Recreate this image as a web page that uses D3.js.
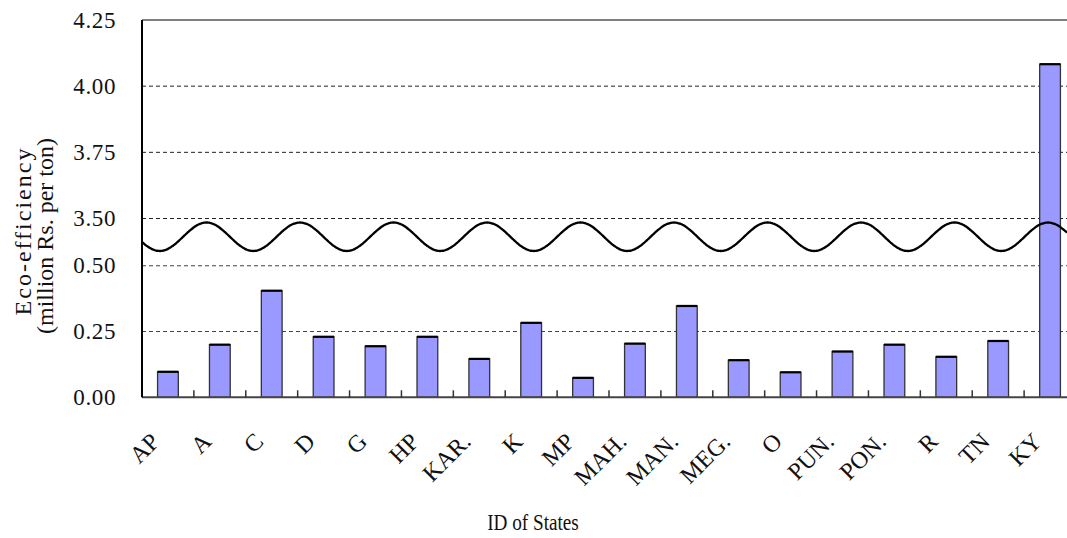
<!DOCTYPE html>
<html>
<head>
<meta charset="utf-8">
<script src="https://cdn.jsdelivr.net/npm/d3@7"></script>
<style>
  html, body { margin: 0; padding: 0; background: #fff; }
  svg { display: block; }
  text { font-family: "Liberation Serif", "Times New Roman", serif; fill: #111; }
</style>
</head>
<body>
<svg id="chart" width="1067" height="538"></svg>
<script>
// ---- data ----
const categories = ["AP","A","C","D","G","HP","KAR.","K","MP","MAH.","MAN.","MEG.","O","PUN.","PON.","R","TN","KY"];
const values = [0.097,0.200,0.405,0.230,0.194,0.230,0.146,0.283,0.074,0.204,0.347,0.141,0.095,0.174,0.200,0.154,0.214,4.083];
const lowerTicks = [0.00, 0.25, 0.50];
const upperTicks = [3.50, 3.75, 4.00, 4.25];
const yTitleLines = ["Eco-efficiency", "(million Rs. per ton)"];
const xTitle = "ID of States";

// ---- layout ----
const left = 142, rightBand = 1076, rightVisible = 1067;
const svg = d3.select("#chart");

const x = d3.scaleBand().domain(categories).range([left, rightBand]).paddingInner(0.6).paddingOuter(0.3);
const xb = d3.scaleBand().domain(categories).range([left, rightBand]);
const yLow = d3.scaleLinear().domain([0, 0.5]).range([397.3, 265.7]);
const yHigh = d3.scaleLinear().domain([3.5, 4.25]).range([218.5, 20]);
const yPos = v => v <= 0.5 ? yLow(v) : yHigh(v);

// grid lines
const grid = svg.append("g");
[0.25, 0.50].forEach(t => {
  grid.append("line").attr("x1", left).attr("x2", rightVisible)
    .attr("y1", yLow(t)).attr("y2", yLow(t))
    .attr("stroke", "#444").attr("stroke-width", 1.1).attr("stroke-dasharray", "4,3");
});
[3.50, 3.75, 4.00].forEach(t => {
  grid.append("line").attr("x1", left).attr("x2", rightVisible)
    .attr("y1", yHigh(t)).attr("y2", yHigh(t))
    .attr("stroke", "#222").attr("stroke-width", 1).attr("stroke-dasharray", "4,3");
});
grid.append("line").attr("x1", left).attr("x2", rightVisible)
  .attr("y1", yHigh(4.25)).attr("y2", yHigh(4.25))
  .attr("stroke", "#555").attr("stroke-width", 1.5);

// bars
const bars = svg.append("g");
categories.forEach((c, i) => {
  const v = values[i];
  const y0 = yLow(0), y1 = yPos(v);
  bars.append("rect")
    .attr("x", x(c)).attr("y", y1)
    .attr("width", x.bandwidth()).attr("height", y0 - y1)
    .attr("fill", "#9999ff").attr("stroke", "#333").attr("stroke-width", 1.3);
  bars.append("line")
    .attr("x1", x(c)).attr("x2", x(c) + x.bandwidth())
    .attr("y1", y1).attr("y2", y1)
    .attr("stroke", "#000").attr("stroke-width", 2.2);
});

// x axis line and ticks
svg.append("line").attr("x1", left).attr("x2", rightVisible)
  .attr("y1", yLow(0)).attr("y2", yLow(0))
  .attr("stroke", "#444").attr("stroke-width", 2);
categories.slice(1).forEach(c => {
  svg.append("line").attr("x1", xb(c)).attr("x2", xb(c))
    .attr("y1", yLow(0)).attr("y2", yLow(0) - 7)
    .attr("stroke", "#333").attr("stroke-width", 1.5);
});

// y axis line
svg.append("line").attr("x1", left).attr("x2", left)
  .attr("y1", yHigh(4.25)).attr("y2", yLow(0))
  .attr("stroke", "#000").attr("stroke-width", 2);

// break wave
const waveCenter = 236.75, waveAmp = 14.25, wavePeriod = 93.5, wavePeak = 206.5;
const wavePts = d3.range(left, rightVisible + 1, 1);
const waveLine = d3.line()
  .x(px => px)
  .y(px => waveCenter - waveAmp * Math.cos(2 * Math.PI * (px - wavePeak) / wavePeriod))
  .curve(d3.curveBasis);
svg.append("path").attr("d", waveLine(wavePts))
  .attr("fill", "none").attr("stroke", "#000").attr("stroke-width", 2.3);

// y tick labels
const fmt = d3.format(".2f");
const tickG = svg.append("g").attr("font-size", "23px").attr("letter-spacing", "0.6px");
lowerTicks.forEach(t => {
  tickG.append("text").attr("x", 116).attr("y", yLow(t)).attr("dy", "0.33em")
    .attr("text-anchor", "end").text(fmt(t));
});
upperTicks.forEach(t => {
  tickG.append("text").attr("x", 116).attr("y", yHigh(t)).attr("dy", "0.33em")
    .attr("text-anchor", "end").text(fmt(t));
});

// x category labels (rotated)
const xlG = svg.append("g").attr("font-size", "24px");
categories.forEach(c => {
  const cx = xb(c) + xb.bandwidth() / 2 - 7;
  xlG.append("text")
    .attr("transform", `translate(${cx},443) rotate(-45)`)
    .attr("text-anchor", "end").text(c);
});

// y title
svg.append("text")
  .attr("transform", "translate(31,231) rotate(-90)")
  .attr("text-anchor", "middle").attr("font-size", "24px").attr("letter-spacing", "2px")
  .text(yTitleLines[0]);
svg.append("text")
  .attr("transform", "translate(53,236) rotate(-90)")
  .attr("text-anchor", "middle").attr("font-size", "24px").attr("letter-spacing", "0px")
  .text(yTitleLines[1]);

// x title (horizontally condensed as in the reference)
svg.append("text")
  .attr("transform", "translate(533,530) scale(0.8,1)")
  .attr("text-anchor", "middle").attr("font-size", "24px")
  .text(xTitle);
</script>
</body>
</html>
